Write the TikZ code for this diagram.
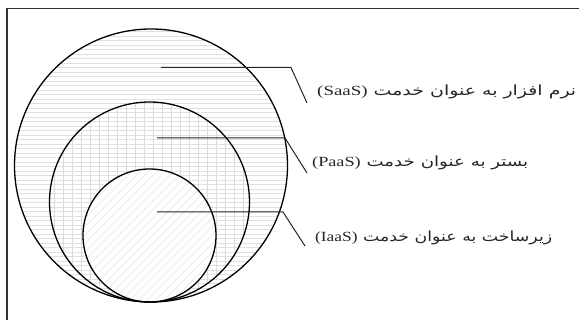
\documentclass[tikz,border=0pt]{standalone}
\usepackage{fontspec}
\usepackage{graphicx}
\setmainfont{Liberation Serif}
\newfontfamily\farsi[Script=Arabic]{DejaVu Sans}
\TeXXeTstate=1
\usetikzlibrary{patterns.meta}
\begin{document}
\begin{tikzpicture}[x=1pt,y=-1pt,
  ring/.style={circle,draw=black,line width=1.3pt,inner sep=0pt,fill=none},
  leader/.style={draw=black!85,line width=1pt},
  lbl/.style={anchor=west,inner sep=0pt,text=black!85,font=\fontsize{14}{16}\selectfont},
  hl/.style={pattern={Lines[distance=4.5pt,angle=0,line width=1pt]},pattern color=gray!25},
  vl/.style={pattern={Lines[distance=9pt,angle=90,line width=1pt]},pattern color=gray!28},
  dl/.style={pattern={Lines[distance=6pt,angle=45,line width=0.9pt]},pattern color=gray!14}]
\useasboundingbox (0,0) rectangle (579,320);
\fill[white] (0,0) rectangle (579,320);
% frame
\coordinate (fb) at (7,320);
\coordinate (ftl) at (7,8.5);
\coordinate (ftr) at (579,8.5);
\draw[line width=1.4pt,black!80] (fb) -- (ftl) -- (ftr);
% circle centres
\coordinate (cS) at (151,165.5);
\coordinate (cP) at (149.5,202);
\coordinate (cI) at (149.5,235.5);
% fills
\path[hl] (cS) circle[radius=136.5];
\fill[white] (cP) circle[radius=100];
\path[hl] (cP) circle[radius=100];
\path[vl] (cP) circle[radius=100];
\fill[white] (cI) circle[radius=66.5];
\path[dl] (cI) circle[radius=66.5];
% outlines
\node[ring,minimum size=273pt] (saas) at (cS) {};
\node[ring,minimum size=200pt] (paas) at (cP) {};
\node[ring,minimum size=133pt] (iaas) at (cI) {};
% leaders
\coordinate (sA) at (161,67.5);
\coordinate (sB) at (291,67.5);
\coordinate (sC) at (307,103);
\coordinate (pA) at (157,138);
\coordinate (pB) at (285,138);
\coordinate (pC) at (307,173);
\coordinate (iA) at (157,212);
\coordinate (iB) at (283,212);
\coordinate (iC) at (305,246);
\draw[leader] (sA) -- (sB) -- (sC);
\draw[leader] (pA) -- (pB) -- (pC);
\draw[leader] (iA) -- (iB) -- (iC);
% labels
\node[lbl] (ls) at (317,92) {\resizebox{259pt}{\height}{\farsi\beginR نرم افزار به عنوان خدمت {\rmfamily\beginL(SaaS)\endL}\endR}};
\node[lbl] (lp) at (312,163) {\resizebox{216pt}{\height}{\farsi\beginR بستر به عنوان خدمت {\rmfamily\beginL(PaaS)\endL}\endR}};
\node[lbl] (li) at (315,238) {\resizebox{237pt}{\height}{\farsi\beginR زیرساخت به عنوان خدمت {\rmfamily\beginL(IaaS)\endL}\endR}};
\end{tikzpicture}
\end{document}
